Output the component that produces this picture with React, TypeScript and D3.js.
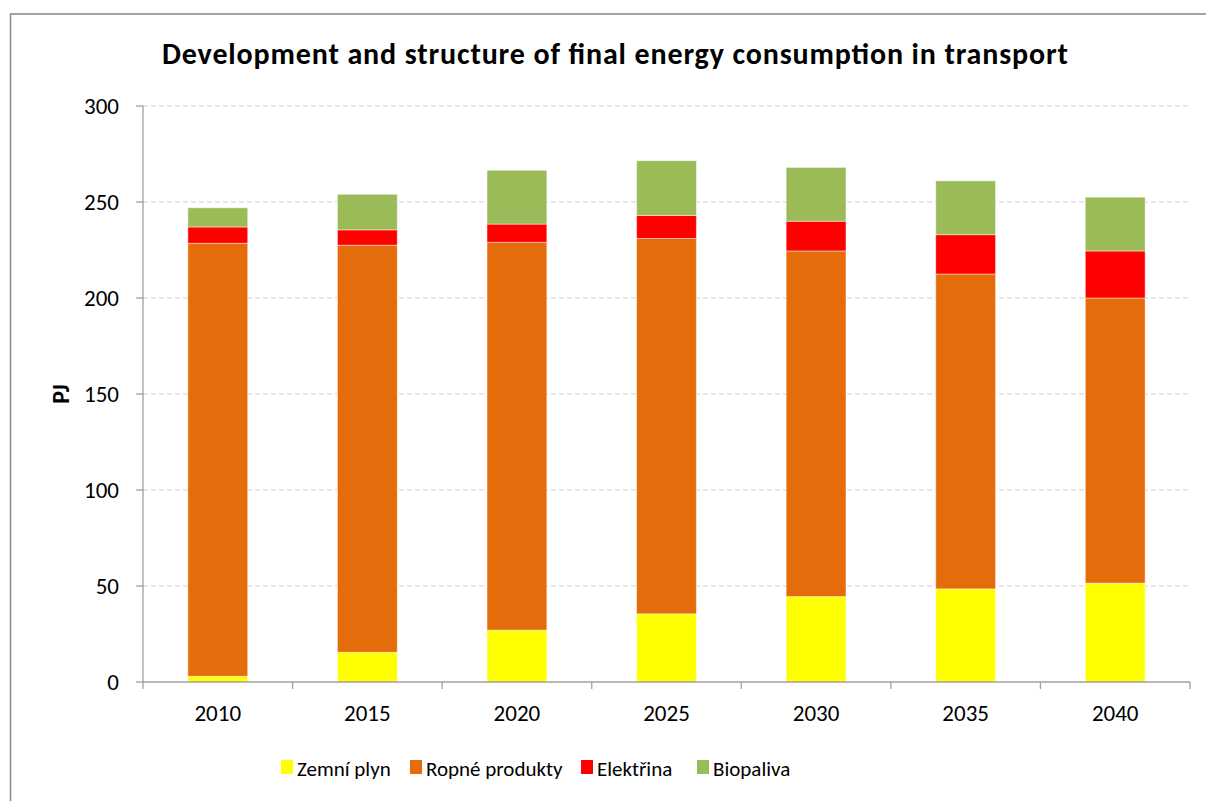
import React from 'react';
import * as d3 from 'd3';

// Years on the category axis
const years = ['2010', '2015', '2020', '2025', '2030', '2035', '2040'];

// Stacked series values (PJ)
const zemniPlyn = [3, 15.5, 27, 35.5, 44.5, 48.5, 51.5];
const ropneProdukty = [225.5, 212, 202, 195.5, 180, 164, 148.5];
const elektrina = [8.5, 8, 9.5, 12, 15.5, 20.5, 24.5];
const biopaliva = [10, 18.5, 28, 28.5, 28, 28, 28];

const seriesNames = ['Zemní plyn', 'Ropné produkty', 'Elektřina', 'Biopaliva'];
const seriesColors = ['#ffff00', '#e46c0a', '#ff0000', '#9bbb59'];

const yTicks = [0, 50, 100, 150, 200, 250, 300];

const W = 1206;
const H = 801;
const FONT = "Carlito, Calibri, Lato, 'Open Sans', sans-serif";

const App: React.FC = () => {
  const margin = { top: 106, right: 16, bottom: 119, left: 143 };
  const plotRight = W - margin.right;
  const plotBottom = H - margin.bottom;

  const x = d3.scaleBand<string>()
    .domain(years)
    .range([margin.left, plotRight])
    .paddingInner(0.6)
    .paddingOuter(0.3);

  const y = d3.scaleLinear()
    .domain([0, 300])
    .range([plotBottom, margin.top]);

  // build table for d3.stack
  const rows = years.map((yr, i) => ({
    year: yr,
    s0: zemniPlyn[i],
    s1: ropneProdukty[i],
    s2: elektrina[i],
    s3: biopaliva[i],
  }));
  const stacked = d3.stack<any>().keys(['s0', 's1', 's2', 's3'])(rows);

  const band = (plotRight - margin.left) / years.length;
  const catEdges = d3.range(years.length + 1).map(i => margin.left + i * band);

  // legend layout
  const legendX = [281, 410, 581, 697];

  return (
    <div style={{ position: 'absolute', left: 0, top: 0 }}>
      <svg width={W} height={H} style={{ display: 'block', fontFamily: FONT }}>
        <rect x={0} y={0} width={W} height={H} fill="#fff" />
        {/* outer frame */}
        <rect x={10.5} y={14} width={W} height={H} fill="none" stroke="#888" strokeWidth={1.5} />

        <text x={162} y={64} textLength={906} lengthAdjust="spacing" fontSize={30} fontWeight="bold" fill="#000">
          Development and structure of final energy consumption in transport
        </text>

        {/* grid lines */}
        {yTicks.filter(t => t > 0).map(t => (
          <line key={t} x1={margin.left} x2={plotRight} y1={y(t)} y2={y(t)}
            stroke="#d0d0d0" strokeWidth={1} strokeDasharray="5,3" />
        ))}

        {/* bars */}
        {stacked.map((layer, si) => (
          <g key={si} fill={seriesColors[si]}>
            {layer.map((d, i) => (
              <rect key={i}
                x={x(years[i])!}
                y={y(d[1])}
                width={x.bandwidth()}
                height={y(d[0]) - y(d[1])}
                stroke="rgba(255,255,255,0.45)"
                strokeWidth={1}
              />
            ))}
          </g>
        ))}

        {/* y axis */}
        <line x1={margin.left} x2={margin.left} y1={margin.top} y2={plotBottom} stroke="#a0a0a0" strokeWidth={1.3} />
        {yTicks.map(t => (
          <g key={t}>
            <line x1={margin.left - 7} x2={margin.left} y1={y(t)} y2={y(t)} stroke="#a0a0a0" strokeWidth={1.3} />
            <text x={119} y={y(t) + 8} textAnchor="end" fontSize={23} fill="#000">{t}</text>
          </g>
        ))}

        {/* x axis */}
        <line x1={margin.left} x2={plotRight} y1={plotBottom} y2={plotBottom} stroke="#a0a0a0" strokeWidth={1.3} />
        {catEdges.map((cx, i) => (
          <line key={i} x1={cx} x2={cx} y1={plotBottom} y2={plotBottom + 7} stroke="#a0a0a0" strokeWidth={1.3} />
        ))}
        {years.map(yr => (
          <text key={yr} x={x(yr)! + x.bandwidth() / 2} y={721} textAnchor="middle" fontSize={23} fill="#000">{yr}</text>
        ))}

        <text transform={`translate(69,394) rotate(-90)`} textAnchor="middle" fontSize={24} fontWeight="bold" fill="#000">PJ</text>

        {/* legend */}
        {seriesNames.map((name, i) => (
          <g key={name}>
            <rect x={legendX[i]} y={760} width={12} height={14} fill={seriesColors[i]} />
            <text x={legendX[i] + 16} y={776} fontSize={21} fill="#000">{name}</text>
          </g>
        ))}
      </svg>
    </div>
  );
};

export default App;
